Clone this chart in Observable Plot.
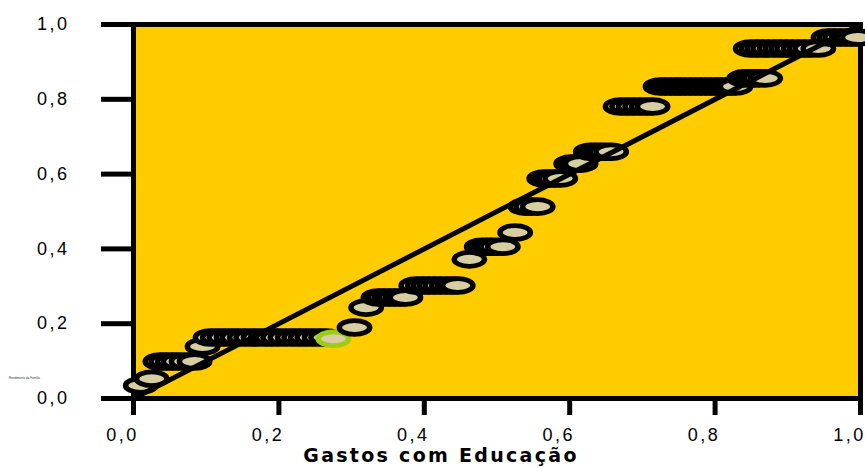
<!DOCTYPE html>
<html>
<head>
<meta charset="utf-8">
<script src="https://cdn.jsdelivr.net/npm/d3@7"></script>
<script src="https://cdn.jsdelivr.net/npm/@observablehq/plot@0.6"></script>
<style>
  html, body { margin: 0; padding: 0; background: #ffffff; }
  #chart { width: 865px; height: 468px; }
  #chart svg text { font-weight: 400; }
  #chart svg g[aria-label="x-axis tick label"] text,
  #chart svg g[aria-label="y-axis tick label"] text { letter-spacing: 2.5px; }
  #chart svg text.xlab { font-weight: 700; letter-spacing: 2.3px; }
</style>
</head>
<body>
<div id="chart"></div>
<script>
// ---- data ----
const xTicks = [0, 0.2, 0.4, 0.6, 0.8, 1.0];
const yTicks = [0, 0.2, 0.4, 0.6, 0.8, 1.0];
const xLabel = "Gastos com Educação";
const yLabel = "Rendimento da Família";
const refLine = [0, 1];

// rows of observed points: expected cumulative prob (y) and the x values in that row
const rowY = [0.035, 0.053, 0.099, 0.139, 0.163, 0.190, 0.243, 0.270, 0.302, 0.372, 0.406, 0.444, 0.513, 0.588, 0.628, 0.660, 0.781, 0.834, 0.856, 0.936, 0.965];
const rowX = [
  [0.010],
  [0.025],
  [0.037, 0.045, 0.054, 0.062, 0.073, 0.084],
  [0.095],
  [0.106, 0.116, 0.125, 0.135, 0.143, 0.153, 0.162, 0.172, 0.182, 0.190, 0.199, 0.209, 0.219, 0.228, 0.237, 0.246, 0.256, 0.265],
  [0.304],
  [0.320],
  [0.337, 0.344, 0.352, 0.359, 0.367, 0.374],
  [0.389, 0.398, 0.406, 0.414, 0.422, 0.431, 0.439, 0.446],
  [0.462],
  [0.479, 0.486, 0.492, 0.499, 0.508],
  [0.525],
  [0.539, 0.547, 0.556],
  [0.565, 0.572, 0.579, 0.587],
  [0.602, 0.609, 0.615],
  [0.629, 0.635, 0.642, 0.649, 0.657],
  [0.670, 0.679, 0.688, 0.697, 0.706, 0.714],
  [0.725, 0.732, 0.739, 0.746, 0.752, 0.759, 0.766, 0.773, 0.780, 0.787, 0.794, 0.801, 0.807, 0.814, 0.821, 0.828],
  [0.840, 0.847, 0.854, 0.861, 0.869],
  [0.849, 0.857, 0.865, 0.873, 0.882, 0.890, 0.898, 0.906, 0.915, 0.923, 0.931, 0.942],
  [0.956, 0.964, 0.972, 0.981, 0.988, 0.996]
];
// the highlighted (selected) case
const selX = [0.275];
const selY = [0.160];

// ---- build tables ----
const points = [];
rowY.forEach((y, i) => rowX[i].forEach(x => points.push({x, y})));
const selected = selX.map((x, i) => ({x, y: selY[i]}));
const splitAt = points.findIndex(p => p.y > 0.17);
const before = points.slice(0, splitAt);
const after = points.slice(splitAt);

// ellipse symbol (stretched a little horizontally in render so the side stroke is wider)
const ellipse = {
  draw(ctx) {
    const rx = 13.1, ry = 6.9, k = 0.5523;
    ctx.moveTo(rx, 0);
    ctx.bezierCurveTo(rx, k * ry, k * rx, ry, 0, ry);
    ctx.bezierCurveTo(-k * rx, ry, -rx, k * ry, -rx, 0);
    ctx.bezierCurveTo(-rx, -k * ry, -k * rx, -ry, 0, -ry);
    ctx.bezierCurveTo(k * rx, -ry, rx, -k * ry, rx, 0);
    ctx.closePath();
  }
};
function stretch(index, scales, values, dims, context, next) {
  const g = next(index, scales, values, dims, context);
  d3.select(g).selectAll("path").attr("transform", function () {
    return (this.getAttribute("transform") || "") + " scale(1.16,1)";
  });
  return g;
}
function xlabClass(index, scales, values, dims, context, next) {
  const g = next(index, scales, values, dims, context);
  d3.select(g).selectAll("text").attr("class", "xlab");
  return g;
}
const dotStyle = {symbol: ellipse, fill: "#D7CFA1", stroke: "#000000", strokeWidth: 4.75, render: stretch};

const fmt = d => d3.format(".1f")(d).replace(".", ",");
const tickFont = "'Liberation Sans', Arial, sans-serif";

const chart = Plot.plot({
  width: 865,
  height: 468,
  marginLeft: 133,
  marginRight: 5,
  marginTop: 24,
  marginBottom: 70,
  style: {fontFamily: tickFont, background: "#ffffff", overflow: "visible"},
  x: {domain: [0, 1]},
  y: {domain: [0, 1]},
  marks: [
    Plot.frame({fill: "#FFCC00", stroke: null}),
    Plot.axisY({ticks: yTicks, tickSize: 32, tickPadding: 32, strokeWidth: 5, tickFormat: fmt, fontSize: 18, fontFamily: tickFont, fontWeight: 400, label: null, fill: "#000"}),
    Plot.axisX({ticks: xTicks, tickSize: 17, strokeWidth: 5, tickFormat: () => "", label: null}),
    Plot.axisX({ticks: xTicks, tickSize: 0, tickPadding: 30, dx: -11, tickFormat: fmt, fontSize: 18, fontFamily: tickFont, fontWeight: 400, label: null, fill: "#000"}),
    Plot.frame({stroke: "#000000", strokeWidth: 5}),
    Plot.dot(before, {x: "x", y: "y", ...dotStyle}),
    Plot.dot(selected, {x: "x", y: "y", symbol: ellipse, fill: "#D7CFA1", stroke: "#9CCB1A", strokeWidth: 4.75, render: stretch}),
    Plot.dot(after, {x: "x", y: "y", ...dotStyle}),
    Plot.line(refLine, {x: d => d, y: d => d, stroke: "#000000", strokeWidth: 5}),
    Plot.text([xLabel], {frameAnchor: "bottom", dx: -56, dy: 63, text: d => d, fontSize: 19, fontWeight: "bold", fontFamily: "'DejaVu Sans', sans-serif", fill: "#000", render: xlabClass}),
    Plot.text([yLabel], {frameAnchor: "left", dx: -109, dy: 167, text: d => d, fontSize: 3, fill: "#333", textAnchor: "middle"})
  ]
});
document.getElementById("chart").appendChild(chart);
</script>
</body>
</html>
